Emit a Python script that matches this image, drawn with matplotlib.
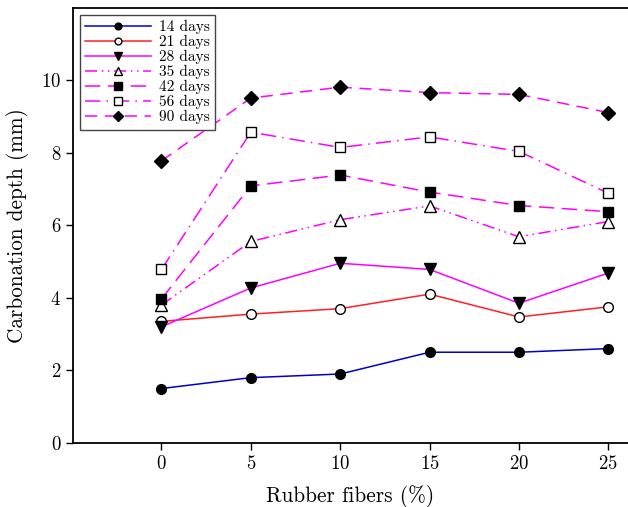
import matplotlib
matplotlib.use("Agg")
import matplotlib.pyplot as plt

plt.rcParams['font.family'] = ['cmr10', 'DejaVu Serif']
plt.rcParams['axes.formatter.use_mathtext'] = True
plt.rcParams['mathtext.fontset'] = 'cm'

fibers = [0, 5, 10, 15, 20, 25]
d14 = [1.5, 1.8, 1.9, 2.5, 2.5, 2.6]
d21 = [3.35, 3.55, 3.7, 4.1, 3.47, 3.75]
d28 = [3.2, 4.27, 4.95, 4.78, 3.85, 4.68]
d35 = [3.8, 5.55, 6.15, 6.53, 5.68, 6.1]
d42 = [3.97, 7.08, 7.38, 6.91, 6.54, 6.37]
d56 = [4.78, 8.56, 8.14, 8.43, 8.03, 6.88]
d90 = [7.77, 9.5, 9.8, 9.65, 9.6, 9.1]
labels = ['14 days', '21 days', '28 days', '35 days', '42 days', '56 days', '90 days']

fig = plt.figure(figsize=(6.28, 5.07), dpi=100)
ax = fig.add_axes([73/628, 1-443/507, 1-73/628, (443-8)/507])

mag = '#ff00ff'
ax.plot(fibers, d14, color='#0000cc', lw=1.1, marker='o', ms=7, mfc='black', mec='black', label=labels[0])
ax.plot(fibers, d21, color='#ff2020', lw=1.1, marker='o', ms=7, mfc='white', mec='black', mew=1.0, label=labels[1])
ax.plot(fibers, d28, color=mag, lw=1.1, marker='v', ms=8, mfc='black', mec='black', label=labels[2])
ax.plot(fibers, d35, color=mag, lw=1.1, marker='^', ms=8, mfc='white', mec='black', mew=1.0,
        dashes=(8, 3, 1, 3, 1, 3), label=labels[3])
ax.plot(fibers, d42, color=mag, lw=1.1, marker='s', ms=7.5, mfc='black', mec='black',
        dashes=(10, 5), label=labels[4])
ax.plot(fibers, d56, color=mag, lw=1.1, marker='s', ms=7.5, mfc='white', mec='black', mew=1.0,
        dashes=(10, 4, 1, 4), label=labels[5])
ax.plot(fibers, d90, color=mag, lw=1.1, marker='D', ms=7, mfc='black', mec='black',
        dashes=(8, 5), label=labels[6])

ax.set_xlim(-4.95, 26.1)
ax.set_ylim(0, 11.98)
ax.set_xticks(fibers)
ax.set_yticks([0, 2, 4, 6, 8, 10])
ax.tick_params(direction='out', length=5, width=1, labelsize=13.5)
ax.spines['right'].set_visible(False)
for s in ['left', 'bottom', 'top']:
    ax.spines[s].set_linewidth(1.3)

ax.set_xlabel('Rubber fibers (%)', fontsize=15.3, labelpad=9)
ax.set_ylabel('Carbonation depth (mm)', fontsize=15.3, labelpad=9)

leg = ax.legend(loc='upper left', fontsize=11, handlelength=4.3, handletextpad=0.5,
                labelspacing=0.05, borderpad=0.35, fancybox=False, framealpha=1,
                edgecolor='#444444', borderaxespad=0.45, markerscale=0.7)
leg.get_frame().set_linewidth(1.0)

fig.savefig('out.png', dpi=100)
